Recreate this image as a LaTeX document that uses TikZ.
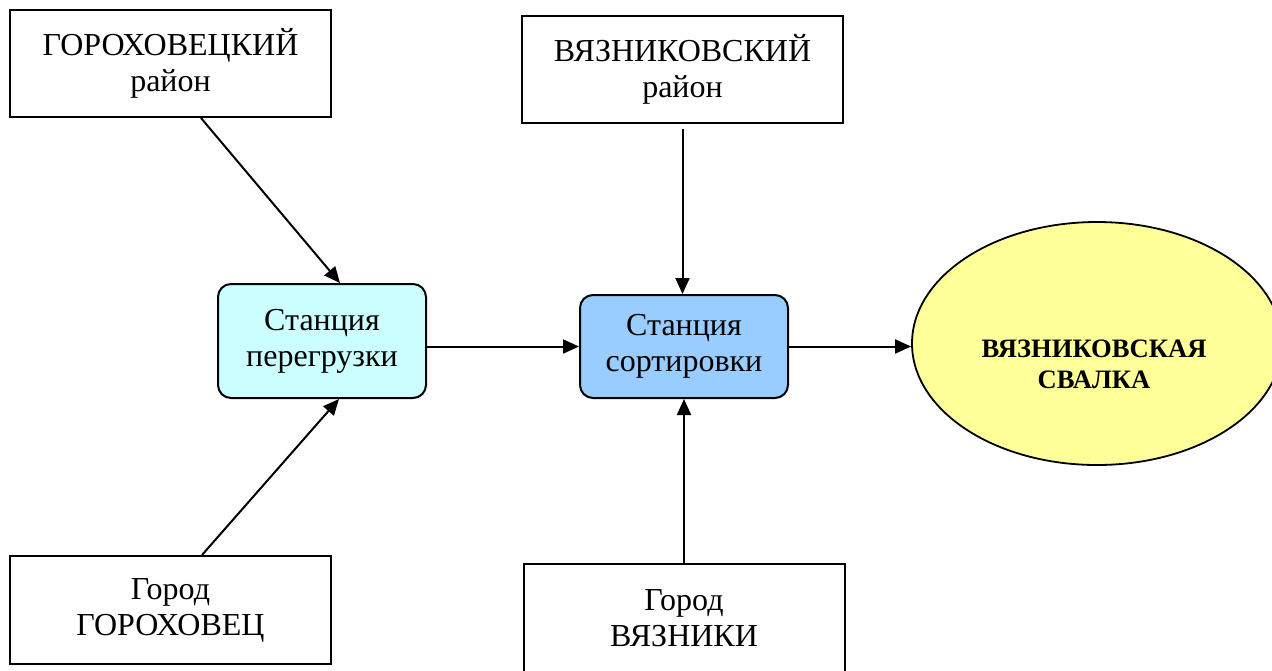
\documentclass[tikz,border=0pt]{standalone}
\usepackage{fontspec}
\setmainfont{Liberation Serif}
\usetikzlibrary{arrows.meta,shapes.geometric,calc}
\definecolor{cyanfill}{HTML}{CCFFFF}
\definecolor{bluefill}{HTML}{99CCFF}
\definecolor{yellowfill}{HTML}{FFFF99}
\begin{document}
\begin{tikzpicture}[x=0.5pt,y=-0.5pt,
  box/.style={draw,line width=1pt,rectangle,align=center,inner sep=0pt,
    font=\fontsize{16pt}{18pt}\selectfont,minimum width=160.5pt},
  station/.style={draw,line width=1pt,rectangle,rounded corners=6.5pt,align=center,inner sep=0pt,
    font=\fontsize{16pt}{18pt}\selectfont,minimum width=104pt},
  dump/.style={draw,line width=0.9pt,ellipse,fill=yellowfill,inner sep=0pt,
    minimum width=185pt,minimum height=121.5pt},
  dumptext/.style={align=center,inner sep=0pt,font=\fontsize{13.3pt}{15.5pt}\selectfont\bfseries},
  arr/.style={line width=1pt,-{Triangle[length=8pt,width=7pt]}}]
\useasboundingbox (0,0) rectangle (1272,670);
\clip (0,0) rectangle (1272,670);
\node[box,minimum height=53.5pt] (gr) at (170.5,63.5) {ГОРОХОВЕЦКИЙ\\район};
\node[box,minimum height=53.5pt] (vr) at (682.5,69.5) {ВЯЗНИКОВСКИЙ\\район};
\node[station,fill=cyanfill,minimum height=57pt] (per) at (322,341) {Станция\\перегрузки};
\node[station,fill=bluefill,minimum height=51.5pt] (sor) at (684,346.5) {Станция\\сортировки};
\node[dump] (sv) at (1097,343.5) {};
\node[dumptext] (svt) at (1094,364) {ВЯЗНИКОВСКАЯ\\СВАЛКА};
\node[box,minimum height=54pt] (gg) at (170.5,610) {Город\\ГОРОХОВЕЦ};
\node[box,minimum height=54pt] (gv) at (684,618) {Город\\ВЯЗНИКИ};
\draw[arr] ($(gr.south)+(30.5,0)$) -- ($(per.north)+(18,0)$);
\draw[arr] ($(gg.north)+(31.5,0)$) -- ($(per.south)+(17,0)$);
\draw[arr] ($(vr.south)+(0,5)$) -- (vr.south |- sor.north);
\draw[arr] (gv.north) -- (sor.south);
\draw[arr] (per.east |- sor.west) -- (sor.west);
\draw[arr] (sor.east) -- (sor.east -| sv.west);
\end{tikzpicture}
\end{document}
